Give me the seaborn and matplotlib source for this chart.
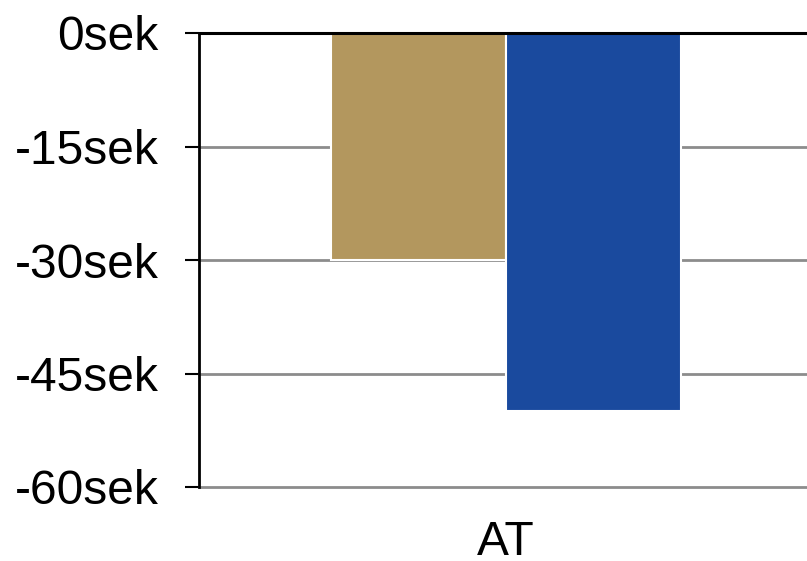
import matplotlib
matplotlib.use("Agg")
import matplotlib.pyplot as plt
import seaborn as sns
import pandas as pd

categories = ["AT", "AT"]
series = ["A", "B"]
values = [-30, -50]
ticks = [0, -15, -30, -45, -60]
tick_labels = ["0sek", "-15sek", "-30sek", "-45sek", "-60sek"]
colors = ["#B3975E", "#1A4A9E"]

df = pd.DataFrame({"cat": categories, "series": series, "value": values})

sns.set_theme(style="white")
plt.rcParams["font.family"] = ["Liberation Sans", "DejaVu Sans"]
plt.rcParams["text.color"] = "black"
plt.rcParams["xtick.color"] = "black"
plt.rcParams["ytick.color"] = "black"

fig = plt.figure(figsize=(8.07, 5.61), dpi=100)
ax = fig.add_axes([199 / 807, 1 - 487 / 561, 1 - 199 / 807, (487 - 33) / 561])

sns.barplot(data=df, x="cat", y="value", hue="series", palette=colors,
            saturation=1, width=0.576, dodge=True, gap=0,
            edgecolor="white", linewidth=1.5,
            legend=False, ax=ax, zorder=3)

ax.set_ylim(-60, 0)
ax.set_xlim(-0.505, 0.495)
ax.set_yticks(ticks)
ax.set_yticklabels(tick_labels)
ax.set_xlabel("")
ax.set_ylabel("")

# horizontal grid behind bars, black zero line on top
for t in ticks[1:]:
    ax.axhline(t, color="#8C8C8C", linewidth=2, zorder=1, clip_on=False)
ax.axhline(0, color="black", linewidth=2.2, zorder=4, clip_on=False)

for s in ["top", "right", "bottom"]:
    ax.spines[s].set_visible(False)
ax.spines["left"].set_color("black")
ax.spines["left"].set_linewidth(2)
ax.spines["left"].set_zorder(5)

ax.tick_params(axis="y", length=10, width=1.5, color="black", pad=19,
               labelsize=34.5, labelcolor="black", left=True)
ax.tick_params(axis="x", length=0, pad=24, labelsize=34.5, labelcolor="black")

fig.savefig("out.png", dpi=100)
